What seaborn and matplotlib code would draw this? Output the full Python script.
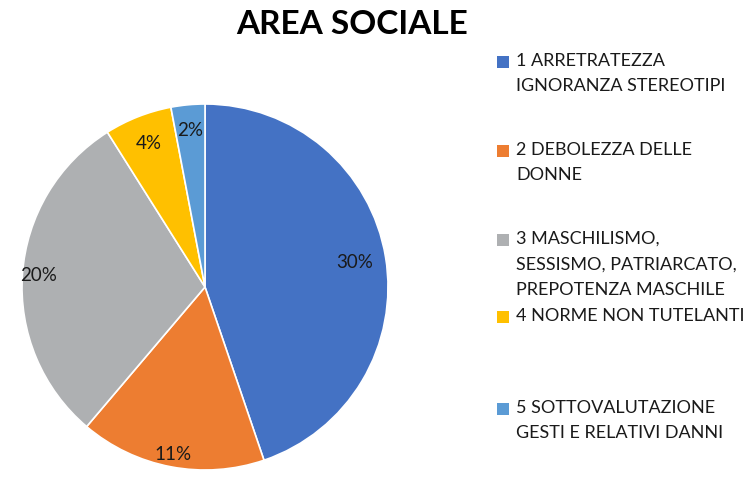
import numpy as np
import matplotlib
matplotlib.use("Agg")
import matplotlib.pyplot as plt
import seaborn as sns
from matplotlib.patches import Rectangle

sns.set_theme(style="white")
plt.rcParams['font.family'] = ['Lato', 'DejaVu Sans']

title = "AREA SOCIALE"
categories = [
    "1 ARRETRATEZZA\nIGNORANZA STEREOTIPI",
    "2 DEBOLEZZA DELLE\nDONNE",
    "3 MASCHILISMO,\nSESSISMO, PATRIARCATO,\nPREPOTENZA MASCHILE",
    "4 NORME NON TUTELANTI",
    "5 SOTTOVALUTAZIONE\nGESTI E RELATIVI DANNI",
]
values = [30, 11, 20, 4, 2]
colors = ["#4472C4", "#ED7D31", "#AEB0B2", "#FFC000", "#5B9BD5"]
label_dist = [0.83, 0.93, 0.91, 0.84, 0.86]
legend_y = [62, 151, 240, 317, 409]  # pixel rows of first text line

W, H = 754, 479
fig = plt.figure(figsize=(W / 100, H / 100), dpi=100)
cx, cy, r = 205, 287, 183
ax = fig.add_axes([(cx - r) / W, (H - cy - r) / H, 2 * r / W, 2 * r / H])
wedges, _ = ax.pie(values, colors=colors, startangle=90, counterclock=False,
                   wedgeprops=dict(edgecolor="white", linewidth=1.2))
for w, v, d in zip(wedges, values, label_dist):
    ang = np.deg2rad((w.theta1 + w.theta2) / 2)
    ax.text(d * np.cos(ang), d * np.sin(ang), f"{v}%", ha="center", va="center",
            fontsize=13.5, color="#1a1a1a")
ax.set_xlim(-1, 1)
ax.set_ylim(-1, 1)
ax.set_aspect("equal")
ax.axis("off")

fig.text(352 / W, 1 - 24 / H, title, ha="center", va="center",
         fontsize=24, fontweight="bold", color="black")

for lab, col, y in zip(categories, colors, legend_y):
    fig.patches.append(Rectangle((497 / W, 1 - (y + 6) / H), 12 / W, 12 / H,
                                 transform=fig.transFigure, facecolor=col,
                                 edgecolor="none"))
    fig.text(516 / W, 1 - (y - 9) / H, lab, ha="left", va="top",
             fontsize=13, color="#1a1a1a", linespacing=1.72)

fig.savefig("out.png", dpi=100, facecolor="white")
